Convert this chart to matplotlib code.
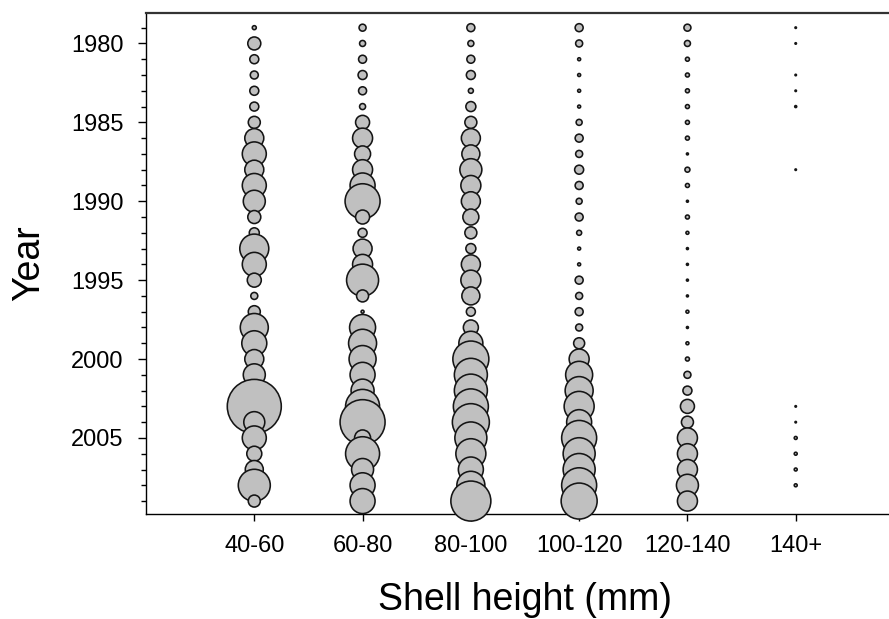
import numpy as np
import matplotlib
matplotlib.use("Agg")
import matplotlib.pyplot as plt

plt.rcParams['font.family'] = ['Liberation Sans', 'DejaVu Sans']

# size classes (x categories) and survey years
classes = ['40-60', '60-80', '80-100', '100-120', '120-140', '140+']
years = list(range(1979, 2010))

# relative bubble size per year, one list per size class
c40_60 = [4, 13, 9, 8, 9, 9, 12, 19, 24, 19, 24, 22, 13, 10, 29, 24, 14, 7,
          12, 28, 25, 19, 22, 20, 54, 21, 24, 15, 18, 32, 12]
c60_80 = [7, 6, 8, 9, 8, 6, 14, 20, 16, 20, 25, 35, 14, 9, 19, 20, 32, 12,
          3, 26, 28, 27, 25, 23, 34, 45, 16, 34, 22, 25, 25]
c80_100 = [8, 6, 8, 9, 5, 10, 12, 19, 18, 22, 20, 19, 16, 12, 10, 19, 20, 18,
           9, 15, 24, 36, 33, 33, 35, 37, 32, 30, 25, 28, 40]
c100_120 = [8, 7, 3, 3, 3, 3, 6, 8, 7, 9, 8, 6, 8, 5, 3, 3, 8, 7,
            8, 7, 11, 20, 27, 28, 30, 25, 35, 32, 32, 35, 36]
c120_140 = [7, 6, 4, 4, 4, 4, 4, 4, 2, 5, 4, 2, 4, 3, 2, 2, 2, 2,
            3, 2, 3, 4, 7, 9, 14, 12, 20, 20, 20, 22, 20]
c140 = [1.5, 1.5, 0, 1.5, 1.5, 2, 0, 0, 0, 1.5, 0, 0, 0, 0, 0, 0, 0, 0,
        0, 0, 0, 0, 0, 0, 1.5, 1.5, 3, 3, 3, 3, 0]

series = [c40_60, c60_80, c80_100, c100_120, c120_140, c140]

fig = plt.figure(figsize=(8.89, 6.19), dpi=100)
# axes runs slightly past the right edge, like the cropped original
ax = fig.add_axes([146 / 889, 1 - 514 / 619, 758 / 889, 501 / 619])

yrs = np.array(years)
for i, vals in enumerate(series):
    v = np.array(vals, dtype=float)
    m = v > 0
    sizes = (0.72 * v[m]) ** 2
    ax.scatter(np.full(m.sum(), i + 1), yrs[m], s=sizes, facecolor='#c0c0c0',
               edgecolor='#151515', linewidths=1.15, clip_on=False, zorder=3)

ax.set_xlim(0, 7)
ax.set_ylim(2009.82, 1978.07)

ax.set_xticks(range(1, len(classes) + 1))
ax.set_xticklabels(classes)
ax.set_yticks(range(1980, 2006, 5))
ax.set_yticks(years, minor=True)

ax.tick_params(axis='x', direction='out', length=5, width=1, pad=10, labelsize=17)
ax.tick_params(axis='y', which='major', direction='out', length=6, width=1, pad=10, labelsize=17)
ax.tick_params(axis='y', which='minor', direction='out', length=3.5, width=1)

ax.spines['right'].set_visible(False)
for side in ['left', 'top', 'bottom']:
    ax.spines[side].set_linewidth(1.0)
ax.spines['top'].set_linewidth(1.6)
ax.spines['top'].set_color('#333333')

ax.set_xlabel('Shell height (mm)', fontsize=27, labelpad=18)
ax.set_ylabel('Year', fontsize=27, labelpad=17)

fig.savefig('out.png', dpi=100)
